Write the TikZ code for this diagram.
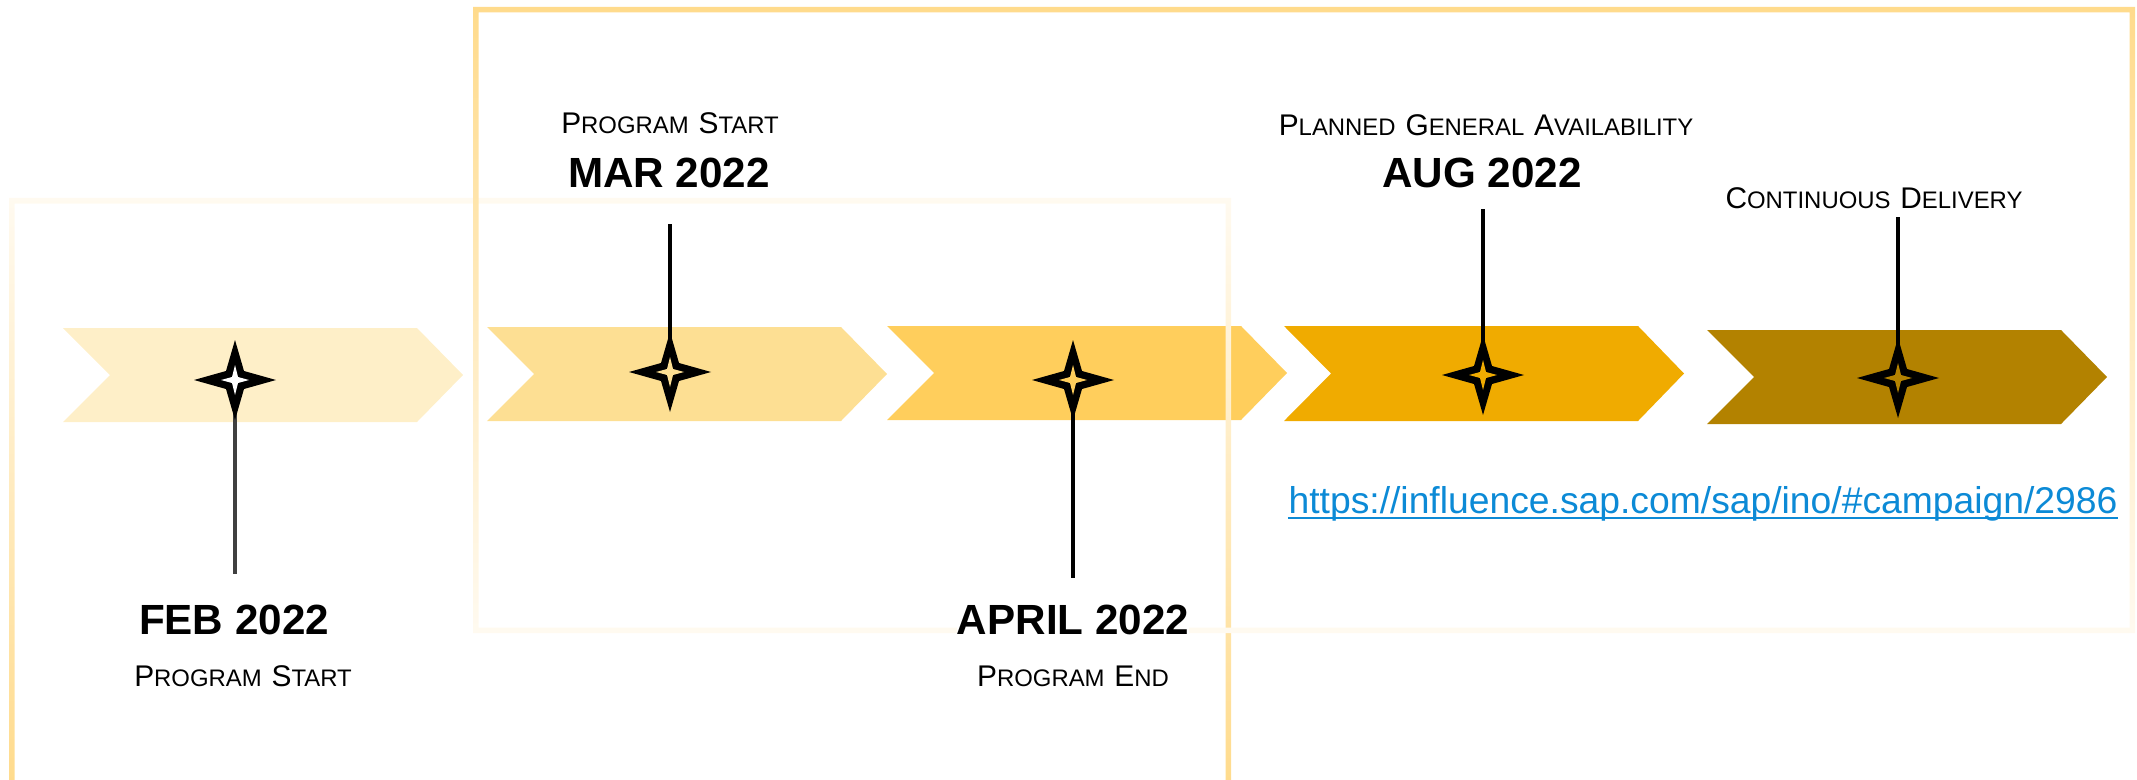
\documentclass[tikz,border=0pt]{standalone}
\usepackage{fontspec}
\setmainfont{Liberation Sans}
\definecolor{c1}{HTML}{FEEFC8}
\definecolor{c2}{HTML}{FDDF93}
\definecolor{c3}{HTML}{FFCE5C}
\definecolor{c4}{HTML}{F0AB00}
\definecolor{c5}{HTML}{B38200}
\definecolor{urlblue}{HTML}{0C8AD6}
\definecolor{frameA}{HTML}{FFDB8C}
\definecolor{frameB}{HTML}{FFFAF0}
\definecolor{stemgray}{HTML}{404040}
\newcommand\sck[2]{{\fontsize{8.5}{10}\selectfont #1}{\fontsize{6.8}{8}\selectfont #2}}
\newcommand\chevron[4]{\fill[#4] (#1,#2) -- (#1+354,#2) -- (#1+400,{(#2+#3)/2}) -- (#1+354,#3) -- (#1,#3) -- (#1+47,{(#2+#3)/2}) -- cycle;}
\tikzset{
  spark/.pic={
    \fill[black] (0,-40) -- (9,-9) -- (41,0) -- (9,9) -- (0,40) -- (-9,9) -- (-41,0) -- (-9,-9) -- cycle;
    \fill[#1] (0,-15) -- (3,-3) -- (14,0) -- (3,3) -- (0,15) -- (-3,3) -- (-14,0) -- (-3,-3) -- cycle;
  },
  stem/.style={line width=1.3pt, black},
  datelbl/.style={font=\fontsize{12}{14}\selectfont\bfseries, inner sep=0pt},
  caplbl/.style={inner sep=0pt},
}
\begin{document}
\begin{tikzpicture}[x=0.01cm,y=-0.01cm]
\useasboundingbox (0,0) rectangle (2137,779);
% chevrons
\chevron{63}{328}{422}{c1}
\chevron{487}{327}{421}{c2}
\chevron{887}{326}{420}{c3}
\chevron{1284}{326}{421}{c4}
\chevron{1707}{330}{424}{c5}
% frames
\shade[top color=frameB, bottom color=frameA, even odd rule]
  (9,198) rectangle (1231,786) (14.5,203.5) rectangle (1225.5,780.5);
\shade[top color=frameA, bottom color=frameB, even odd rule]
  (473,7) rectangle (2135,633) (478.5,12.5) rectangle (2129.5,627.5);
% star centres
\coordinate (s1) at (235,380);
\coordinate (s2) at (670,372);
\coordinate (s3) at (1073,380);
\coordinate (s4) at (1483,375);
\coordinate (s5) at (1898,378);
% labels
\node[caplbl] (ps1) at (670,123) {\sck{P}{ROGRAM} \sck{S}{TART}};
\node[datelbl] (mar) at (669,173) {MAR 2022};
\coordinate (mart) at (670,224);
\node[caplbl] (pga) at (1486,125) {\sck{P}{LANNED} \sck{G}{ENERAL} \sck{A}{VAILABILITY}};
\node[datelbl] (aug) at (1482,173) {AUG 2022};
\coordinate (augt) at (1483,209);
\node[caplbl] (cd) at (1874,198) {\sck{C}{ONTINUOUS} \sck{D}{ELIVERY}};
\coordinate (cdt) at (1898,217);
\coordinate (febb) at (235,574);
\node[datelbl] (feb) at (234,620) {FEB 2022};
\node[caplbl] (ps2) at (243,676) {\sck{P}{ROGRAM} \sck{S}{TART}};
\coordinate (aprb) at (1073,578);
\node[datelbl, fill=white] (apr) at (1073,620) {APRIL 2022};
\node[caplbl] (pe) at (1073,676) {\sck{P}{ROGRAM} \sck{E}{ND}};
\node[font=\fontsize{10.6}{12}\selectfont, text=urlblue, inner sep=0pt] (url) at (1703,504) {https://influence.sap.com/sap/ino/\#campaign/2986};
\draw[urlblue, line width=0.6pt] ([yshift=-1.3pt]url.base west) -- ([yshift=-1.3pt]url.base east);
% stems
\draw[stem, stemgray] (s1) -- (febb);
\draw[stem] (mart) -- (s2);
\draw[stem] (s3) -- (aprb);
\draw[stem] (augt) -- (s4);
\draw[stem] (cdt) -- (s5);
% stars
\pic at (s1) {spark=white};
\pic at (s2) {spark=c2};
\pic at (s3) {spark=c3};
\pic at (s4) {spark=c4};
\pic at (s5) {spark=c5};
\end{tikzpicture}
\end{document}
